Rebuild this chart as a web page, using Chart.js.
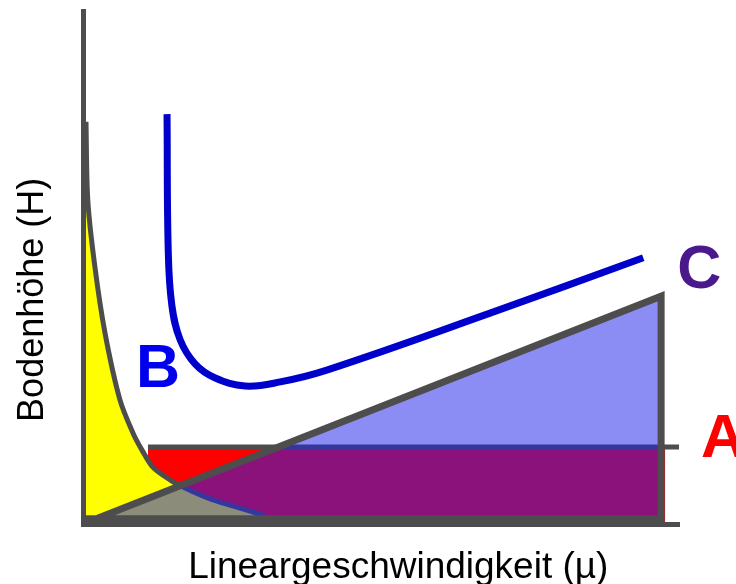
<!DOCTYPE html>
<html>
<head>
<meta charset="utf-8">
<script src="https://cdn.jsdelivr.net/npm/chart.js@4"></script>
<style>
  html, body { margin: 0; padding: 0; background: #fff; }
  #wrap { width: 736px; height: 584px; position: relative; }
</style>
</head>
<body>
<div id="wrap"><canvas id="vanDeemter"></canvas></div>
<script>
// van Deemter sketch (axes run 0..10 without units)
const bX = [0.05, 0.08, 0.20, 0.37, 0.62, 0.84, 0.99, 1.17, 1.46, 1.68, 1.96, 2.18, 2.58, 2.97, 3.05]
const bY = [7.84, 6.32, 5.01, 3.72, 2.42, 1.77, 1.44, 1.11, 0.86, 0.72, 0.57, 0.47, 0.33, 0.19, 0.16]

const hX = [1.41, 1.43, 1.49, 1.63, 1.88, 2.21, 2.72, 3.31, 4.09, 6.83, 9.40]
const hY = [7.99, 5.34, 4.27, 3.59, 3.12, 2.85, 2.69, 2.77, 3.00, 4.11, 5.19]

const aLineX = [1.09, 10]
const aLineY = [1.50, 1.50]
const aFillX = [1.09, 9.77]
const aFillY = [1.47, 1.47]

const cX = [0, 9.70]
const cY = [0, 4.44]
const cEdgeX = [0, 9.70, 9.70, 0.05]
const cEdgeY = [0, 4.44, 0.10, 0.10]

const xTitle = 'Lineargeschwindigkeit (µ)'
const yTitle = 'Bodenhöhe (H)'

const gray = '#4d4d4d'
const pts = (xs, ys) => xs.map((v, i) => ({ x: v, y: ys[i] }))

const labelsPlugin = {
  id: 'labels',
  afterDraw(chart) {
    const { ctx, chartArea, scales: { x, y } } = chart
    ctx.save()
    ctx.font = 'bold 61px "Liberation Sans", Arial, sans-serif'
    ctx.textAlign = 'center'
    ctx.textBaseline = 'alphabetic'
    ctx.fillStyle = '#0000ee'
    ctx.fillText('B', x.getPixelForValue(1.26), y.getPixelForValue(2.67))
    ctx.fillStyle = '#4a1a8c'
    ctx.fillText('C', x.getPixelForValue(10.34), y.getPixelForValue(4.60))
    ctx.fillStyle = '#ff0000'
    ctx.fillText('A', x.getPixelForValue(10.74), y.getPixelForValue(1.31))

    ctx.fillStyle = '#000'
    ctx.font = '37px "Liberation Sans", Arial, sans-serif'
    ctx.fillText(xTitle, x.getPixelForValue(5.29), chartArea.bottom + 54)
    ctx.translate(chartArea.left - 40, y.getPixelForValue(4.37))
    ctx.rotate(-Math.PI / 2)
    ctx.font = '36px "Liberation Sans", Arial, sans-serif'
    ctx.fillText(yTitle, 0, 0)
    ctx.restore()
  }
}

const ctx = document.getElementById('vanDeemter').getContext('2d')
new Chart(ctx, {
  type: 'line',
  data: {
    datasets: [
      { // H curve
        data: pts(hX, hY),
        borderColor: '#0000cc',
        borderWidth: 7,
        tension: 0.4,
        fill: false,
        order: 1
      },
      { // C outline
        data: pts(cEdgeX, cEdgeY),
        borderColor: gray,
        borderWidth: 7,
        borderJoinStyle: 'miter',
        tension: 0,
        fill: false,
        order: 2
      },
      { // C area
        data: pts(cX, cY),
        borderWidth: 0,
        borderColor: 'rgba(0,0,0,0)',
        backgroundColor: 'rgba(35,35,235,0.52)',
        fill: 'origin',
        order: 3
      },
      { // A line
        data: pts(aLineX, aLineY),
        borderColor: gray,
        borderWidth: 5,
        fill: false,
        order: 4
      },
      { // B curve with area
        data: pts(bX, bY),
        borderColor: gray,
        borderWidth: 5,
        backgroundColor: '#ffff00',
        tension: 0.3,
        fill: 'origin',
        order: 5
      },
      { // A area
        data: pts(aFillX, aFillY),
        borderWidth: 0,
        borderColor: 'rgba(0,0,0,0)',
        backgroundColor: '#ff0000',
        fill: 'origin',
        order: 6
      }
    ]
  },
  options: {
    responsive: true,
    maintainAspectRatio: false,
    animation: false,
    layout: {
      autoPadding: false,
      padding: { left: 83, top: 11, right: 57, bottom: 60 }
    },
    elements: { point: { radius: 0, hoverRadius: 0 } },
    scales: {
      x: {
        type: 'linear',
        min: 0,
        max: 10,
        grid: { display: false, drawTicks: false },
        ticks: { display: false },
        border: { color: gray, width: 5, z: 1 }
      },
      y: {
        type: 'linear',
        min: 0,
        max: 10,
        grid: { display: false, drawTicks: false },
        ticks: { display: false },
        border: { color: gray, width: 5, z: 1 }
      }
    },
    plugins: {
      legend: { display: false },
      tooltip: { enabled: false }
    }
  },
  plugins: [labelsPlugin]
})
</script>
</body>
</html>
